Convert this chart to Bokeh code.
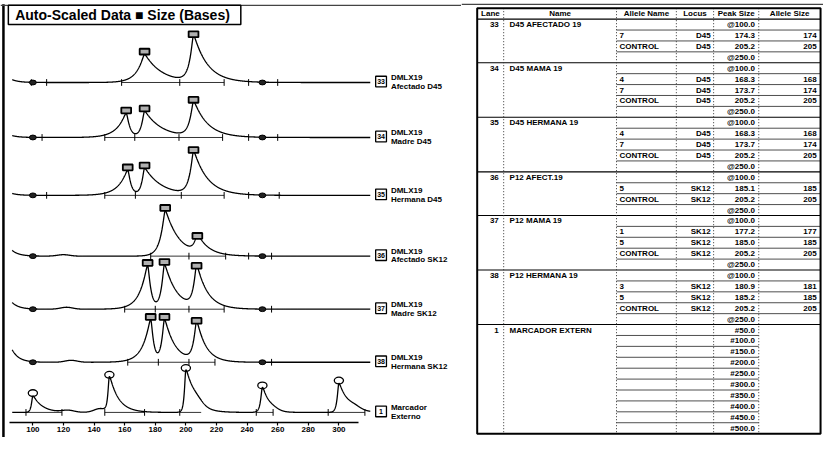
import numpy as np
from bokeh.plotting import figure
from bokeh.models import Range1d, LinearAxis, FixedTicker, ColumnDataSource
from bokeh.layouts import row
from bokeh.embed import file_html
from bokeh.resources import INLINE
from bokeh.core.properties import value

FONT = "Liberation Sans"

# ---------------- data: electropherogram lanes ----------------
LANE_IDS = ["33", "34", "35", "36", "37", "38", "1"]
LANE_LINE1 = ["DMLX19", "DMLX19", "DMLX19", "DMLX19", "DMLX19", "DMLX19", "Marcador"]
LANE_LINE2 = ["Afectado D45", "Madre D45", "Hermana D45", "Afectado SK12",
              "Madre SK12", "Hermana SK12", "Externo"]

# called peaks (size in bases, height in display units)
PEAK_POS = [[173.0, 205.0], [161.0, 173.0, 205.0], [162.0, 173.0, 205.0],
            [186.5, 207.5], [175.0, 186.0, 207.0], [177.0, 186.0, 207.0],
            [100.0, 150.0, 200.0, 250.0, 300.0]]
PEAK_HEIGHT = [[29, 47], [25, 27, 36], [26, 28, 44], [47, 18], [45, 46, 42],
               [44, 44, 40], [17, 36, 43, 25, 30]]
PEAK_RISE = [[5, 2.5], [6, 2, 2.5], [6, 1.8, 2.5], [3, 2], [5, 2, 2], [5, 1.8, 2],
             [0.8, 0.8, 0.8, 1.0, 1.0]]
PEAK_TAIL = [[11, 9], [2.2, 11, 9], [2, 11, 9], [9, 7], [2, 8, 7], [1.8, 7, 6],
             [6, 6, 6, 4, 6]]
# small uncalled bumps
MINOR_POS = [[], [], [], [120], [122], [125], [123, 144, 207, 256, 310]]
MINOR_HEIGHT = [[], [], [], [1.5], [2], [2], [2, 4, 5, 3, 3]]
START_LEVEL = [3, 2, 2, 6, 7, 13, 0]
# peak-boundary tick marks
BOUND_TICKS = [[99, 109, 158, 196, 225, 241, 260],
               [106, 147, 166.6, 195.5, 224, 241, 260],
               [109, 147, 167, 197, 225, 241, 261],
               [177, 202, 226, 241, 256],
               [160, 180, 202, 225, 256],
               [162, 182, 202, 219, 256],
               [95.5, 119, 147, 173, 196, 246, 257, 293, 317]]
BASE_SEGMENTS = [[(158, 225)], [(147, 224)], [(147, 225)], [(177, 226)],
                 [(160, 225)], [(162, 219)],
                 [(95.5, 119), (147, 173), (196, 210), (246, 257), (293, 317)]]
STD_SIZES = [100, 250]
AXIS_TICKS = [100, 120, 140, 160, 180, 200, 220, 240, 260, 280, 300]
TITLE = "Auto-Scaled Data \u25a0 Size (Bases)"

# ---------------- data: table ----------------
TBL_COLS = ["Lane", "Name", "Allele Name", "Locus", "Peak Size", "Allele Size"]
TBL_LANE = ["33", "34", "35", "36", "37", "38", "1"]
TBL_NAME = ["D45 AFECTADO 19", "D45 MAMA 19", "D45 HERMANA 19", "P12 AFECT.19",
            "P12 MAMA 19", "P12 HERMANA 19", "MARCADOR EXTERN"]
MARKER_SIZES = [50, 100, 150, 200, 250, 300, 350, 400, 450, 500]
TBL_ALLELE = [["", "7", "CONTROL", ""],
              ["", "4", "7", "CONTROL", ""],
              ["", "4", "7", "CONTROL", ""],
              ["", "5", "CONTROL", ""],
              ["", "1", "5", "CONTROL", ""],
              ["", "3", "5", "CONTROL", ""],
              [""] * 10]
TBL_LOCUS = [["", "D45", "D45", ""],
             ["", "D45", "D45", "D45", ""],
             ["", "D45", "D45", "D45", ""],
             ["", "SK12", "SK12", ""],
             ["", "SK12", "SK12", "SK12", ""],
             ["", "SK12", "SK12", "SK12", ""],
             [""] * 10]
TBL_PEAK = [["@100.0", "174.3", "205.2", "@250.0"],
            ["@100.0", "168.3", "173.7", "205.2", "@250.0"],
            ["@100.0", "168.3", "173.7", "205.2", "@250.0"],
            ["@100.0", "185.1", "205.2", "@250.0"],
            ["@100.0", "177.2", "185.0", "205.2", "@250.0"],
            ["@100.0", "180.9", "185.2", "205.2", "@250.0"],
            ["#%.1f" % s for s in MARKER_SIZES]]
TBL_SIZE = [["", "174", "205", ""],
            ["", "168", "174", "205", ""],
            ["", "168", "174", "205", ""],
            ["", "185", "205", ""],
            ["", "177", "185", "205", ""],
            ["", "181", "185", "205", ""],
            [""] * 10]

# ---------------- layout constants (reference pixel space) ----------------
REF_W, REF_H = 839, 453
SPLIT = 470
PAGE_W, PAGE_H = 823, 437
LEFT_W = round(PAGE_W * SPLIT / REF_W)
RIGHT_W = PAGE_W - LEFT_W
B0_PX, PX_PER_BASE = 33.0, 1.56
LANE_BASE = [85, 142, 202, 265, 320, 375, 427]
AXIS_Y = 437
TRACE_START, TRACE_END = 86.5, 320.5


def px_to_base(px):
    return 100 + (px - B0_PX) / PX_PER_BASE


def make_fig(w, xr):
    p = figure(width=w, height=PAGE_H, x_range=xr, y_range=Range1d(REF_H, 0),
               output_backend="svg", toolbar_location=None,
               x_axis_location=None, y_axis_location=None, min_border=0)
    p.grid.visible = False
    p.outline_line_color = None
    p.background_fill_color = "white"
    p.border_fill_color = "white"
    return p


# ================= left panel =================
left = make_fig(LEFT_W, Range1d(px_to_base(0), px_to_base(SPLIT)))
left.extra_x_ranges = {"px": Range1d(0, SPLIT)}

# frame lines and title box
left.segment(x0=[3], y0=[4], x1=[3], y1=[REF_H], x_range_name="px",
             line_color="black", line_width=2.5)
left.segment(x0=[0], y0=[5], x1=[SPLIT], y1=[5], x_range_name="px",
             line_color="#444444", line_width=1.3)
left.quad(left=[8], right=[245], top=[5], bottom=[25], x_range_name="px",
          fill_color="white", line_color="black", line_width=1.5)
left.text(x=[15], y=[15.5], text=[TITLE], x_range_name="px",
          text_font=value(FONT), text_font_size="14px", text_font_style="bold",
          text_baseline="middle", text_align="left", text_color="black")

xs = np.linspace(TRACE_START, TRACE_END, 1600)
box_x, box_y, circ_x, circ_y = [], [], [], []
tick_x, tick_y0, tick_y1 = [], [], []
seg_x0, seg_x1, seg_y = [], [], []
std_x, std_y = [], []
for i in range(len(LANE_IDS)):
    base = LANE_BASE[i]
    sig = np.zeros_like(xs)
    for mu, h, a, b in zip(PEAK_POS[i], PEAK_HEIGHT[i], PEAK_RISE[i], PEAK_TAIL[i]):
        d = xs - mu
        r = np.sqrt(d * d + 0.36) - 0.6
        sig += np.where(d < 0, h * np.exp(-r / a), h * np.exp(-r / b))
        if i < 6:
            box_x.append(mu)
            box_y.append(base - h - 3)
        else:
            circ_x.append(mu)
            circ_y.append(base - h - 3)
    for mu, h in zip(MINOR_POS[i], MINOR_HEIGHT[i]):
        sig += h * np.exp(-0.5 * ((xs - mu) / 4.0) ** 2)
    sig += START_LEVEL[i] * np.exp(-(xs - TRACE_START) / 4.5)
    for s0, s1 in BASE_SEGMENTS[i]:
        seg_x0.append(s0)
        seg_x1.append(s1)
        seg_y.append(base)
    for t in BOUND_TICKS[i]:
        tick_x.append(t)
        tick_y0.append(base - 3.5)
        tick_y1.append(base + 3.5)
    if i < 6:
        for s in STD_SIZES:
            std_x.append(s)
            std_y.append(base)
    left.line(xs, base - sig, line_color="black", line_width=1.3)

left.segment(x0=seg_x0, y0=seg_y, x1=seg_x1, y1=seg_y, line_color="black", line_width=0.8)
left.segment(x0=tick_x, y0=tick_y0, x1=tick_x, y1=tick_y1, line_color="black", line_width=1)
left.ellipse(x=std_x, y=std_y, width=4.5, height=5, fill_color="#222222",
             line_color="black", line_width=1)
left.rect(x=box_x, y=box_y, width=6.4, height=6, fill_color="#b0b0b0",
          line_color="black", line_width=1.8)
left.ellipse(x=circ_x, y=circ_y, width=6.0, height=7, fill_color=None,
             line_color="black", line_width=1.3)

# lane labels
lab = ColumnDataSource(dict(
    bx=[388] * len(LANE_IDS), by=[b - 1 for b in LANE_BASE], num=LANE_IDS,
    tx=[398] * len(LANE_IDS), y1=[b - 5 for b in LANE_BASE], y2=[b + 4 for b in LANE_BASE],
    l1=LANE_LINE1, l2=LANE_LINE2))
left.rect(x="bx", y="by", width=11, height=11, source=lab, x_range_name="px",
          fill_color="white", line_color="black", line_width=1.3)
left.text(x="bx", y="by", text="num", source=lab, x_range_name="px",
          text_font=value(FONT), text_font_size="7px", text_font_style="bold",
          text_align="center", text_baseline="middle")
left.text(x="tx", y="y1", text="l1", source=lab, x_range_name="px",
          text_font=value(FONT), text_font_size="8px", text_font_style="bold",
          text_align="left", text_baseline="middle")
left.text(x="tx", y="y2", text="l2", source=lab, x_range_name="px",
          text_font=value(FONT), text_font_size="8px", text_font_style="bold",
          text_align="left", text_baseline="middle")

# size axis
ax = LinearAxis(fixed_location=AXIS_Y,
                ticker=FixedTicker(ticks=AXIS_TICKS),
                bounds=(85, 313))
ax.axis_line_width = 1.6
ax.axis_line_color = "black"
ax.major_tick_line_color = "black"
ax.major_tick_out = 3
ax.major_tick_in = 0
ax.major_tick_line_width = 1.2
ax.minor_tick_out = 0
ax.minor_tick_in = 0
ax.major_label_standoff = 2
ax.major_label_text_font = FONT
ax.major_label_text_font_size = "8px"
ax.major_label_text_font_style = "bold"
ax.major_label_text_color = "black"
left.add_layout(ax, "below")

# ================= right panel: table =================
right = make_fig(RIGHT_W, Range1d(SPLIT, REF_W))
T_LEFT, T_RIGHT, T_TOP, T_BOTTOM = 486, 836, 8, 449
COL_EDGES = [486, 513, 628, 689, 727, 773, 836]
n_rows = 1 + sum(len(g) for g in TBL_PEAK)
RH = (T_BOTTOM - T_TOP) / n_rows

right.segment(x0=[SPLIT], y0=[4], x1=[REF_W], y1=[4], line_color="#444444", line_width=1.3)

# header
hx = [(COL_EDGES[k] + COL_EDGES[k + 1]) / 2 for k in range(6)]
right.text(x=hx, y=[T_TOP + RH / 2] * 6, text=TBL_COLS, text_font=value(FONT),
           text_font_size="8px", text_font_style="bold", text_align="center",
           text_baseline="middle")

full_y, part_y, part_x1 = [T_TOP + RH], [], []
cells = dict(x=[], y=[], t=[], a=[])


def add_cell(x, y, t, a):
    if t:
        cells["x"].append(x)
        cells["y"].append(y)
        cells["t"].append(t)
        cells["a"].append(a)


r = 1
for g in range(len(TBL_LANE)):
    n = len(TBL_PEAK[g])
    yc = T_TOP + (r + 0.5) * RH
    add_cell(508, yc, TBL_LANE[g], "right")
    add_cell(519, yc, TBL_NAME[g], "left")
    for k in range(n):
        yk = T_TOP + (r + k + 0.5) * RH
        add_cell(631, yk, TBL_ALLELE[g][k], "left")
        add_cell(724, yk, TBL_LOCUS[g][k], "right")
        add_cell(769, yk, TBL_PEAK[g][k], "right")
        add_cell(832, yk, TBL_SIZE[g][k], "right")
        if k < n - 1:
            part_y.append(T_TOP + (r + k + 1) * RH)
            part_x1.append(773 if g == len(TBL_LANE) - 1 else T_RIGHT)
    r += n
    if g < len(TBL_LANE) - 1:
        full_y.append(T_TOP + r * RH)

right.segment(x0=[T_LEFT] * len(full_y), y0=full_y, x1=[T_RIGHT] * len(full_y), y1=full_y,
              line_color="black", line_width=1.1)
right.segment(x0=[628] * len(part_y), y0=part_y, x1=part_x1, y1=part_y,
              line_color="#222222", line_width=0.8)
vx = COL_EDGES[1:-1]
right.segment(x0=vx, y0=[T_TOP] * len(vx), x1=vx, y1=[T_BOTTOM] * len(vx),
              line_color="#333333", line_width=1, line_dash="1 2")
right.quad(left=[T_LEFT], right=[T_RIGHT], top=[T_TOP], bottom=[T_BOTTOM],
           fill_color=None, line_color="black", line_width=2)

cs = ColumnDataSource(cells)
right.text(x="x", y="y", text="t", text_align="a", source=cs, text_font=value(FONT),
           text_font_size="8px", text_font_style="bold", text_baseline="middle")

layout = row(left, right, spacing=0)
open("out.html", "w").write(file_html(layout, INLINE))
